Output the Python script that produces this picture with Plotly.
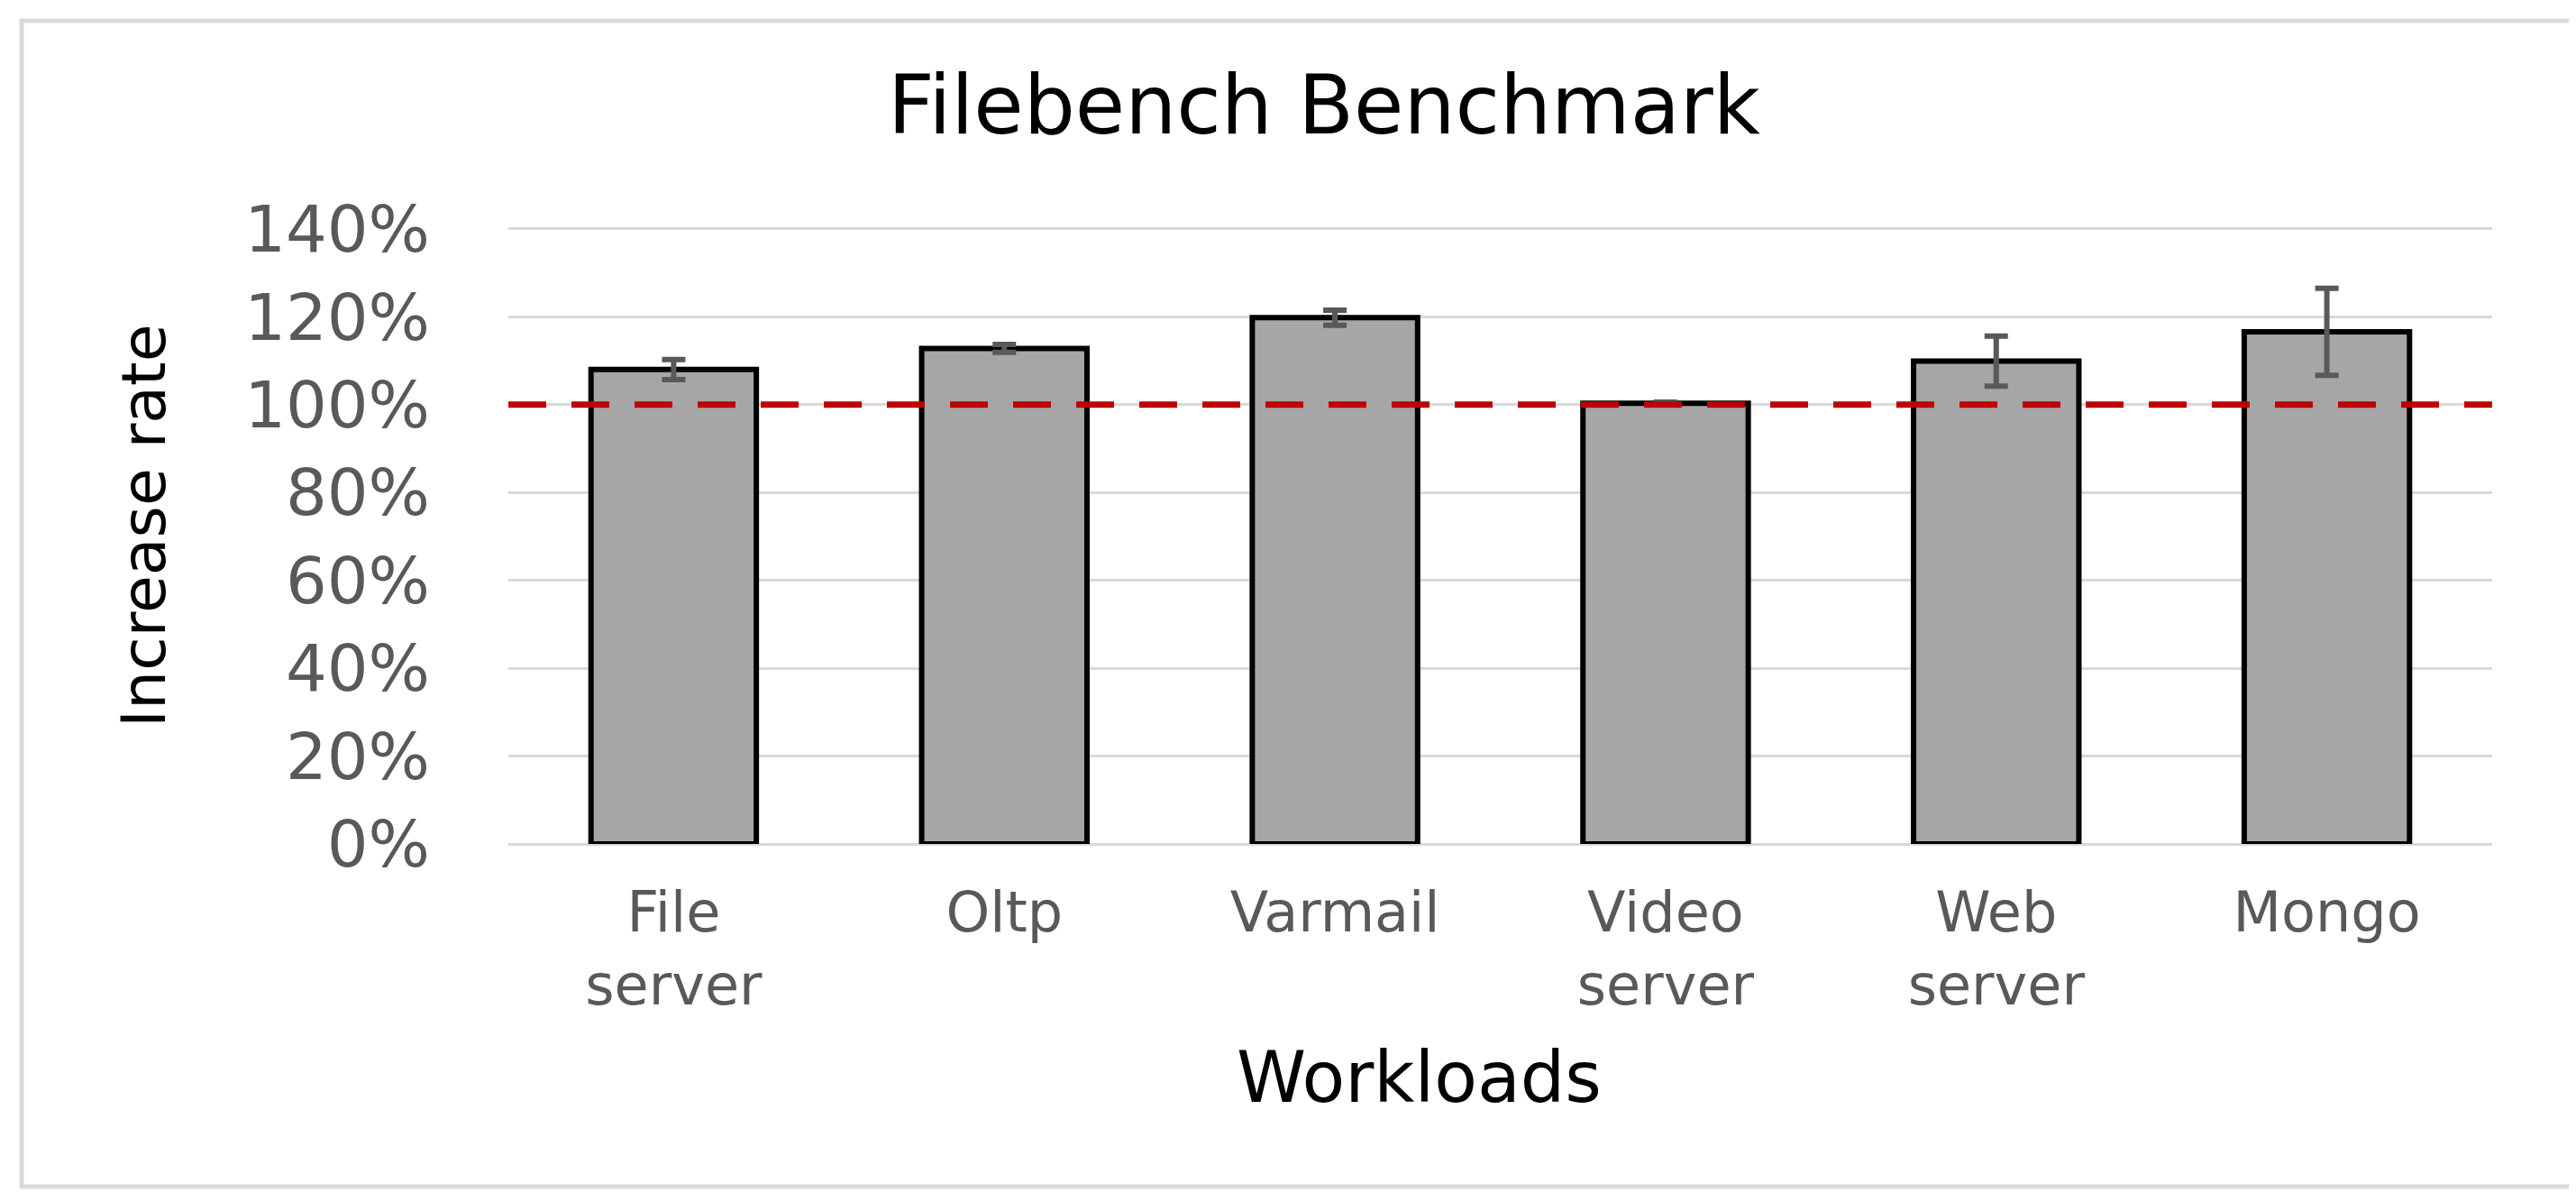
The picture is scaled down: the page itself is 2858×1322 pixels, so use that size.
# -*- coding: utf-8 -*-
"""
Filebench benchmark: increase rate per workload
"""
import plotly.graph_objects as go

workloads = ['File<br>server', 'Oltp', 'Varmail', 'Video<br>server', 'Web<br>server', 'Mongo']
increase_rate = [1.080, 1.128, 1.198, 1.003, 1.099, 1.166]
error = [0.023, 0.009, 0.017, 0.003, 0.057, 0.099]
baseline = 1.0
y_ticks = [0, 0.2, 0.4, 0.6, 0.8, 1.0, 1.2, 1.4]

W, H = 2858, 1322
L, R, T, B = 556, 101, 244, 394
pw, ph = W - L - R, H - T - B


def px(x):
    return (x - L) / pw


def py(y):
    return (H - B - y) / ph


fig = go.Figure()

fig.add_trace(go.Bar(
    x=workloads,
    y=increase_rate,
    width=0.5,
    marker=dict(color='#A6A6A6', line=dict(color='black', width=6)),
    error_y=dict(type='data', array=error, visible=True,
                 color='#595959', thickness=6, width=13),
    showlegend=False
))

# línea de referencia al 100 %
fig.add_shape(type='line', xref='paper', yref='y',
              x0=0, x1=1, y0=baseline, y1=baseline,
              line=dict(color='#C00000', width=7, dash='42px,28px'))

# marco exterior
fig.add_shape(type='rect', xref='paper', yref='paper',
              x0=px(16), x1=px(2846), y0=py(1308), y1=py(15),
              line=dict(color='#D9D9D9', width=5), layer='below')

fig.add_annotation(text='Increase rate', xref='paper', yref='paper',
                   x=px(151), y=py(575), xanchor='center', yanchor='middle',
                   textangle=-90, showarrow=False,
                   font=dict(family='DejaVu Sans', size=68, color='black'))
fig.add_annotation(text='Workloads', xref='paper', yref='paper',
                   x=px(1566), y=py(1187), xanchor='center', yanchor='middle',
                   showarrow=False,
                   font=dict(family='DejaVu Sans', size=78, color='black'))

fig.update_layout(
    title=dict(text='Filebench Benchmark', xref='paper', x=px(1461), xanchor='center',
               y=1 - 108 / H, yanchor='middle',
               font=dict(family='DejaVu Sans', size=90, color='black')),
    width=W, height=H,
    margin=dict(l=L, r=R, t=T, b=B),
    plot_bgcolor='white',
    paper_bgcolor='white',
    xaxis=dict(
        tickfont=dict(family='DejaVu Sans', size=62, color='#595959'),
        showline=False, showgrid=False, ticks='', ticklabelstandoff=34
    ),
    yaxis=dict(
        range=[0, 1.404], tickvals=y_ticks, tickformat='.0%',
        tickfont=dict(family='DejaVu Sans', size=72, color='#595959'),
        showgrid=True, gridcolor='#D9D9D9', gridwidth=3,
        zeroline=True, zerolinecolor='#D9D9D9', zerolinewidth=3,
        showline=False, ticks='', ticklabelstandoff=86
    ),
    bargap=0.5
)

fig.write_html("out.html")
